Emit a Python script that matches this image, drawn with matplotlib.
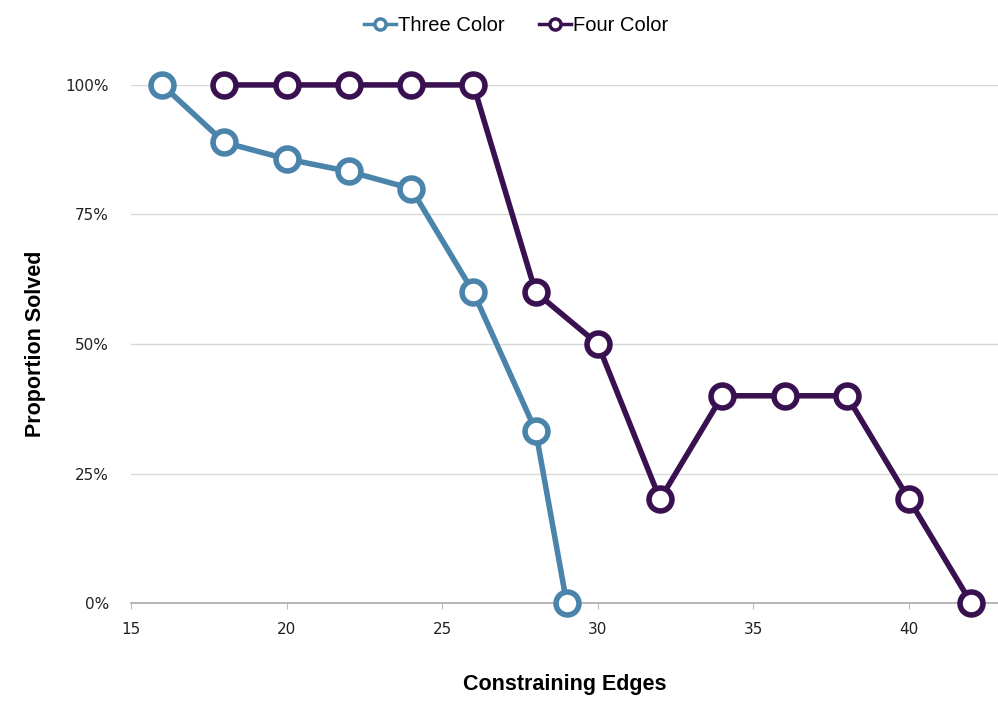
import matplotlib
matplotlib.use("Agg")
import matplotlib.pyplot as plt
from matplotlib.ticker import PercentFormatter

# data
three_x = [16, 18, 20, 22, 24, 26, 28, 29]
three_y = [1.0, 0.889, 0.857, 0.833, 0.80, 0.60, 0.333, 0.0]
four_x = [18, 20, 22, 24, 26, 28, 30, 32, 34, 36, 38, 40, 42]
four_y = [1.0, 1.0, 1.0, 1.0, 1.0, 0.60, 0.50, 0.20, 0.40, 0.40, 0.40, 0.20, 0.0]
x_ticks = [15, 20, 25, 30, 35, 40]
y_ticks = [0, 0.25, 0.5, 0.75, 1.0]

blue = "#4b84ab"
purple = "#3a1150"

fig = plt.figure(figsize=(9.98, 7.03), dpi=100)
ax = fig.add_axes([0.1313, 0.1422, 0.8687, 0.737])

style = dict(lw=4, marker="o", ms=16.5, mfc="white", mew=4, clip_on=False, zorder=3)
ax.plot(three_x, three_y, color=blue, label="Three Color", **style)
ax.plot(four_x, four_y, color=purple, label="Four Color", **style)

ax.set_xlim(15, 42.86)
ax.set_ylim(0, 1.0)
ax.set_xticks(x_ticks)
ax.set_yticks(y_ticks)
ax.yaxis.set_major_formatter(PercentFormatter(1.0, decimals=0))
ax.grid(axis="y", color="#d9d9d9", lw=1)
ax.set_axisbelow(True)
for s in ["top", "right", "left"]:
    ax.spines[s].set_visible(False)
ax.spines["bottom"].set_color("#aaaaaa")
ax.spines["bottom"].set_linewidth(1.2)
ax.tick_params(axis="y", length=0, pad=16, labelsize=11, labelcolor="#222222")
ax.tick_params(axis="x", length=4, color="#bbbbbb", pad=10, labelsize=11, labelcolor="#222222")

ax.set_xlabel("Constraining Edges", fontsize=15.5, fontweight="bold",
              family="Liberation Sans", labelpad=26)
ax.set_ylabel("Proportion Solved", fontsize=15.5, fontweight="bold",
              family="Liberation Sans", labelpad=14)

leg = fig.legend(loc="upper center", bbox_to_anchor=(0.517, 1.003), ncol=2,
                 frameon=False, handlelength=1.6, handletextpad=0.1,
                 columnspacing=1.7, prop={"family": "Liberation Sans", "size": 14.5})
for h in leg.legend_handles:
    h.set_markersize(8)
    h.set_markeredgewidth(2.5)
    h.set_linewidth(2.5)

fig.savefig("out.png", dpi=100)
